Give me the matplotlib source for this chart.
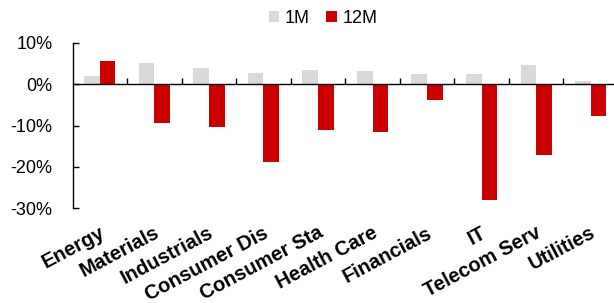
import matplotlib
matplotlib.use("Agg")
import matplotlib.pyplot as plt
import matplotlib.transforms as mtransforms
import numpy as np

categories = ["Energy", "Materials", "Industrials", "Consumer Dis", "Consumer Sta",
              "Health Care", "Financials", "IT", "Telecom Serv", "Utilities"]
one_month = [2.0, 5.1, 3.8, 2.8, 3.5, 3.1, 2.4, 2.4, 4.7, 0.7]
twelve_month = [5.7, -9.5, -10.3, -18.8, -11.0, -11.6, -3.8, -27.9, -17.2, -7.6]
y_ticks = [10, 0, -10, -20, -30]
series_names = ["1M", "12M"]

plt.rcParams['font.family'] = ['Liberation Sans', 'DejaVu Sans']

fig = plt.figure(figsize=(6.14, 3.03), dpi=100)
ax = fig.add_axes([0.1184, 0.3125, 0.8816, 0.5465])

x = np.arange(len(categories))
w = 0.285
ax.bar(x - w / 2, one_month, width=w, color="#D9D9D9", label=series_names[0], zorder=2)
ax.bar(x + w / 2, twelve_month, width=w, color="#CC0000", label=series_names[1], zorder=2)

ax.set_ylim(-30, 10)
ax.set_xlim(-0.5, 9.43)
ax.set_yticks(y_ticks)
ax.set_yticklabels([f"{v}%" for v in y_ticks], fontsize=13)
ax.tick_params(axis='y', direction='in', length=4, width=1, pad=14.5)

for s in ['top', 'right']:
    ax.spines[s].set_visible(False)
ax.spines['bottom'].set_position(('data', 0))
ax.spines['bottom'].set_zorder(3)
ax.spines['left'].set_linewidth(1)
ax.spines['bottom'].set_linewidth(1)

ax.set_xticks(x[:-1] + 0.5)
ax.set_xticklabels([])
ax.tick_params(axis='x', direction='in', length=4, width=1)

trans = mtransforms.blended_transform_factory(ax.transData, ax.transAxes)
for i, c in enumerate(categories):
    ax.text(i - 0.02, -0.09, c, transform=trans, rotation=28, rotation_mode='anchor',
            ha='right', va='top', fontsize=14.5, fontweight='bold')

fig.legend(loc='center', bbox_to_anchor=(0.526, 0.939), ncol=2, frameon=False,
           fontsize=13, handlelength=0.6, handleheight=0.6, handletextpad=0.3,
           columnspacing=0.9)

fig.savefig("out.png", dpi=100)
